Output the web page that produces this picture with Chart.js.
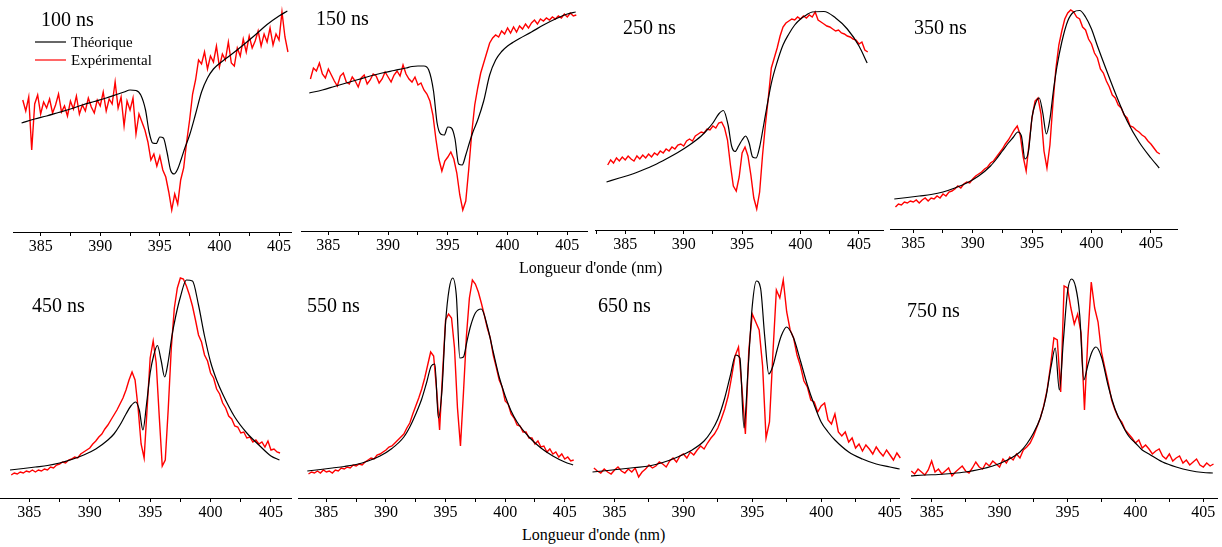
<!DOCTYPE html>
<html>
<head>
<meta charset="utf-8">
<script src="https://cdn.jsdelivr.net/npm/chart.js@4.4.0/dist/chart.umd.min.js"></script>
<style>
    body {
        margin: 0;
        width: 1222px;
        height: 547px;
        background: #fff;
        position: relative;
        overflow: hidden;
        font-family: 'Liberation Serif', 'Times New Roman', serif;
        color: #000;
    }
    canvas { position: absolute; }
    .title { position: absolute; font-size: 20px; line-height: 1; white-space: nowrap; }
    .xlabel { position: absolute; font-size: 16px; line-height: 1; white-space: nowrap; }
</style>
</head>
<body>
<script>
// Wavelength grids (nm)
const expWavelengths = [
    383.5, 383.75, 384, 384.25, 384.5, 384.75, 385, 385.25, 385.5, 385.75,
    386, 386.25, 386.5, 386.75, 387, 387.25, 387.5, 387.75, 388, 388.25,
    388.5, 388.75, 389, 389.25, 389.5, 389.75, 390, 390.25, 390.5, 390.75,
    391, 391.25, 391.5, 391.75, 392, 392.25, 392.5, 392.75, 393, 393.25,
    393.5, 393.75, 394, 394.25, 394.5, 394.75, 395, 395.25, 395.5, 395.75,
    396, 396.25, 396.5, 396.75, 397, 397.25, 397.5, 397.75, 398, 398.25,
    398.5, 398.75, 399, 399.25, 399.5, 399.75, 400, 400.25, 400.5, 400.75,
    401, 401.25, 401.5, 401.75, 402, 402.25, 402.5, 402.75, 403, 403.25,
    403.5, 403.75, 404, 404.25, 404.5, 404.75, 405, 405.25, 405.5, 405.75
];
const theoryWavelengths = [
    383.4, 384.5, 385.5, 386.5, 387.5, 388.5, 389.5, 390.5, 391.5, 392,
    392.5, 393, 393.4, 393.8, 394.1, 394.4, 394.7, 395, 395.3, 395.6,
    395.9, 396.2, 396.5, 396.8, 397.1, 397.5, 398, 398.5, 399, 399.5,
    400, 400.5, 401, 402, 403, 404, 405, 405.7
];

const panelTitles = ['100 ns', '150 ns', '250 ns', '350 ns', '450 ns', '550 ns', '650 ns', '750 ns'];
const seriesLabels = ['Théorique', 'Expérimental'];
const axisTitle = "Longueur d'onde (nm)";

// Intensity (a.u.)
const theo100 = [
    109, 113, 116, 119.5, 123, 127, 130.5, 134, 138, 140,
    142, 141.5, 137, 122, 100, 89, 88.5, 95, 94, 80,
    62, 58, 63, 73, 84, 97, 118, 140, 154, 163,
    168.5, 173, 177.5, 187, 197, 207.5, 216, 221
];
const exp100 = [
    132, 121, 135, 82, 128, 137, 118, 130, 124, 133,
    119, 127, 138, 120, 126, 116, 131, 123, 136, 118,
    127, 121, 134, 125, 119, 132, 126, 140, 121, 133,
    128, 150, 124, 135, 106, 131, 122, 134, 98, 118,
    110, 102, 90, 72, 78, 66, 76, 62, 55, 40,
    22, 38, 28, 52, 64, 90, 112, 138, 152, 172,
    168, 180, 163, 176, 170, 186, 165, 178, 172, 190,
    169, 166, 184, 176, 193, 180, 196, 184, 191, 201,
    186, 198, 190, 204, 187, 198, 192, 220, 195, 180
];

const theo150 = [
    138, 141, 144.5, 148, 151.5, 155, 158, 160.5, 163, 164.5,
    165, 165, 161, 140, 108, 97, 96, 104, 103, 92,
    67, 66, 76, 88, 99, 111, 130, 156, 171, 179.5,
    185, 189, 192.5, 199, 206, 212, 217, 219
];
const exp150 = [
    152, 163, 160, 168, 157, 153, 162, 156, 150, 145,
    155, 158, 149, 147, 154, 150, 144, 153, 156, 147,
    151, 157, 155, 148, 152, 159, 154, 149, 156, 160,
    155, 166, 157, 152, 149, 154, 146, 148, 141, 137,
    130, 116, 92, 72, 60, 70, 74, 79, 72, 58,
    36, 21, 30, 62, 98, 126, 143, 158, 168, 178,
    188, 193, 196, 194, 200, 197, 203, 198, 204, 199,
    205, 202, 207, 203, 208, 211, 207, 212, 210, 213,
    211, 214, 212, 215, 213, 217, 214, 218, 215, 216
];

const theo250 = [
    48, 52, 55.5, 60, 65, 71, 77.5, 85, 94, 100,
    107, 116, 119.5, 105, 84, 78.5, 84, 90, 94, 87,
    73, 72, 83, 102, 122, 146.7, 168, 185, 196, 205,
    211, 215, 218, 218.5, 212, 201, 184, 167
];
const exp250 = [
    65, 70, 67, 72, 69, 73, 70, 74, 71, 69,
    74, 71, 75, 72, 76, 73, 77, 75, 79, 77,
    81, 79, 83, 81, 85, 86, 84, 89, 91, 89,
    94, 96, 98, 97, 101, 100, 104, 102, 107, 108,
    102, 90, 65, 44, 39, 53, 77, 83, 74, 55,
    32, 21, 38, 75, 106, 133, 162, 172, 182, 194,
    203, 207, 209, 211, 210, 213, 211, 214, 212, 215,
    213, 218, 210, 208, 206, 204, 203, 201, 199, 200,
    197, 196, 194, 193, 191, 190, 186, 188, 180, 178
];

const theo350 = [
    30, 31.5, 33, 34.5, 37, 41, 46, 53, 63, 70,
    78, 86, 91.5, 97, 93, 70, 78, 112, 126, 131,
    116, 95, 110, 139, 163, 187, 208, 217, 218.5, 212,
    200, 183, 167, 136, 108, 87, 71, 61
];
const exp350 = [
    22, 25, 24, 27, 26, 28, 27, 29, 26, 29,
    31, 28, 31, 30, 33, 31, 35, 33, 37, 38,
    40, 43, 41, 45, 47, 46, 50, 53, 55, 57,
    60, 62, 66, 68, 72, 76, 80, 85, 89, 94,
    99, 103, 94, 72, 58, 86, 112, 128, 131, 115,
    78, 61, 84, 125, 160, 184, 198, 210, 216, 219,
    217, 212, 210, 202, 199, 190, 185, 176, 171, 160,
    156, 148, 142, 134, 131, 124, 121, 114, 111, 103,
    102, 99, 97, 94, 92, 88, 85, 81, 77, 75
];

const theo450 = [
    28, 29.5, 31, 32.5, 35, 38.5, 43, 49, 58, 64,
    73, 84, 92, 96, 88, 68, 94, 125, 143, 152.5,
    138, 121, 137, 162, 181, 201, 218, 217, 193, 162,
    136, 118, 104, 81, 65, 53, 42, 38
];
const exp450 = [
    23, 25, 24, 26, 25, 27, 26, 28, 26, 28,
    27, 29, 28, 31, 30, 33, 34, 36, 35, 38,
    39, 41, 40, 44, 46, 48, 50, 54, 57, 61,
    64, 69, 73, 78, 83, 88, 94, 100, 108, 118,
    126, 118, 90, 54, 40, 90, 140, 157, 135, 82,
    32, 38, 90, 150, 190, 210, 220, 219, 212, 203,
    192, 178, 163, 156, 143, 137, 125, 120, 109, 104,
    95, 90, 82, 79, 72, 71, 65, 66, 60, 61,
    56, 58, 54, 56, 51, 57, 48, 49, 46, 45
];

const theo550 = [
    27, 28.5, 30, 31.5, 33.5, 37, 42, 49.5, 61, 71,
    84, 99, 115, 132, 134, 80, 108, 175, 209, 220,
    203, 140, 141, 157, 172, 185, 189, 172, 146, 121,
    102, 87, 76, 61, 50, 42, 36, 33
];
const exp550 = [
    24, 26, 25, 27, 25, 28, 26, 27, 25, 28,
    27, 30, 29, 31, 30, 33, 32, 34, 33, 36,
    38, 40, 39, 43, 44, 46, 48, 51, 52, 55,
    58, 61, 64, 70, 75, 84, 92, 100, 109, 120,
    133, 146, 142, 108, 68, 125, 178, 184, 180, 150,
    90, 52, 105, 162, 200, 218, 214, 206, 195, 183,
    170, 160, 143, 131, 118, 111, 97, 94, 84, 80,
    73, 72, 66, 66, 60, 60, 54, 57, 51, 52,
    46, 49, 44, 46, 41, 44, 39, 41, 37, 38
];

const theo650 = [
    26, 27.5, 29, 30.5, 32, 35.5, 40.5, 47, 57, 66,
    79, 100, 122, 143, 140, 70, 130, 192, 217, 210,
    162, 124, 132, 148, 162, 171, 160, 137, 113, 93,
    76, 66, 58, 46, 39, 34, 31, 29
];
const exp650 = [
    30, 27, 25, 29, 26, 24, 28, 31, 27, 25,
    29, 26, 30, 21, 26, 29, 33, 30, 32, 36,
    34, 31, 37, 40, 36, 42, 44, 40, 46, 43,
    48, 52, 49, 55, 60, 64, 70, 79, 89, 102,
    121, 142, 151, 110, 64, 148, 184, 176, 168, 132,
    60, 76, 145, 208, 200, 218, 186, 168, 160, 143,
    132, 117, 111, 98, 96, 86, 92, 95, 78, 74,
    84, 66, 62, 66, 56, 60, 50, 54, 47, 53,
    49, 44, 51, 46, 42, 48, 43, 38, 45, 40
];

const theo750 = [
    22, 23, 23.5, 24.5, 26, 28.5, 32, 37.5, 46, 54,
    65, 80, 100, 132, 150, 108, 158, 206, 219, 211,
    183, 118, 133, 146, 151, 141, 112, 89, 74, 62,
    55, 48, 44, 36, 31, 27.5, 25.5, 25
];
const exp750 = [
    27, 24, 29, 26, 23, 28, 37, 26, 29, 24,
    27, 30, 22, 26, 29, 32, 27, 25, 30, 36,
    31, 29, 35, 32, 37, 34, 31, 39, 35, 41,
    38, 44, 40, 48, 51, 55, 62, 71, 80, 92,
    108, 132, 160, 158, 106, 212, 210, 190, 174, 184,
    165, 88, 160, 216, 190, 176, 146, 130, 115, 98,
    88, 80, 76, 68, 64, 60, 55, 58, 50, 53,
    49, 44, 47, 49, 42, 39, 44, 37, 40, 42,
    35, 38, 33, 36, 39, 33, 31, 35, 32, 34
];

// Panel placement on the page
const panels = [
    { theo: theo100, exp: exp100, left: 13,  right: 292,  top: 0,   axisY: 232, xMin: 382.68, xMax: 406.09, tx: 41,  ty: 9,   legend: true },
    { theo: theo150, exp: exp150, left: 301, right: 588,  top: 0,   axisY: 231, xMin: 382.71, xMax: 406.73, tx: 316, ty: 8 },
    { theo: theo250, exp: exp250, left: 595, right: 884,  top: 0,   axisY: 230, xMin: 382.44, xMax: 407.14, tx: 623, ty: 17 },
    { theo: theo350, exp: exp350, left: 890, right: 1178, top: 0,   axisY: 229, xMin: 383.04, xMax: 407.28, tx: 914, ty: 17 },
    { theo: theo450, exp: exp450, left: 0,   right: 292,  top: 270, axisY: 498, xMin: 382.57, xMax: 406.74, tx: 32,  ty: 295 },
    { theo: theo550, exp: exp550, left: 298, right: 588,  top: 270, axisY: 498, xMin: 382.62, xMax: 406.95, tx: 307, ty: 295 },
    { theo: theo650, exp: exp650, left: 587, right: 903,  top: 270, axisY: 498, xMin: 383.0,  xMax: 405.72, tx: 598, ty: 295 },
    { theo: theo750, exp: exp750, left: 911, right: 1218, top: 270, axisY: 498, xMin: 383.48, xMax: 406.08, tx: 907, ty: 300 }
];
const AXIS_H = 26;

function toPoints(xs, ys) {
    return xs.map((x, i) => ({ x: x, y: ys[i] }));
}

// legend drawn inside the first panel
const legendPlugin = {
    id: 'panelLegend',
    afterDraw(chart, args, opts) {
        if (!opts.show) return;
        const ctx = chart.ctx;
        ctx.save();
        ctx.font = '15px "Liberation Serif"';
        ctx.textBaseline = 'middle';
        chart.data.datasets.forEach((ds, i) => {
            const y = 42 + i * 18;
            ctx.strokeStyle = ds.borderColor;
            ctx.lineWidth = 1.2;
            ctx.beginPath();
            ctx.moveTo(22, y);
            ctx.lineTo(53, y);
            ctx.stroke();
            ctx.fillStyle = '#000';
            ctx.fillText(ds.label, 58, y + 1);
        });
        ctx.restore();
    }
};

function addText(cls, text, x, y) {
    const el = document.createElement('div');
    el.className = cls;
    el.textContent = text;
    el.style.left = x + 'px';
    el.style.top = y + 'px';
    document.body.appendChild(el);
}

panels.forEach((p, idx) => {
    const canvas = document.createElement('canvas');
    const w = p.right - p.left;
    const h = p.axisY - p.top + AXIS_H;
    canvas.width = w;
    canvas.height = h;
    canvas.style.left = p.left + 'px';
    canvas.style.top = p.top + 'px';
    document.body.appendChild(canvas);

    new Chart(canvas, {
        type: 'line',
        data: {
            datasets: [
                {
                    label: seriesLabels[0],
                    data: toPoints(theoryWavelengths, p.theo),
                    borderColor: '#000000',
                    borderWidth: 1.2,
                    cubicInterpolationMode: 'monotone',
                    pointRadius: 0,
                    clip: false
                },
                {
                    label: seriesLabels[1],
                    data: toPoints(expWavelengths, p.exp),
                    borderColor: '#ff0000',
                    borderWidth: 1.4,
                    tension: 0,
                    pointRadius: 0,
                    clip: false
                }
            ]
        },
        options: {
            responsive: false,
            animation: false,
            devicePixelRatio: 1,
            layout: { padding: 0 },
            plugins: {
                legend: { display: false },
                tooltip: { enabled: false },
                panelLegend: { show: !!p.legend }
            },
            scales: {
                x: {
                    type: 'linear',
                    min: p.xMin,
                    max: p.xMax,
                    afterFit: (s) => { s.height = AXIS_H; },
                    border: { display: true, color: '#000', width: 1 },
                    grid: { drawOnChartArea: false, drawTicks: true, tickLength: 4, color: '#000' },
                    ticks: {
                        stepSize: 2.5,
                        includeBounds: false,
                        autoSkip: false,
                        maxRotation: 0,
                        padding: 1,
                        color: '#000',
                        font: { family: 'Liberation Serif', size: 16 },
                        callback: (v) => (v % 5 === 0 ? String(v) : '')
                    }
                },
                y: { display: false, min: 0, max: p.axisY - p.top }
            }
        },
        plugins: [legendPlugin]
    });

    addText('title', panelTitles[idx], p.tx, p.ty);
});

addText('xlabel', axisTitle, 519, 260);
addText('xlabel', axisTitle, 522, 527);
</script>
</body>
</html>
